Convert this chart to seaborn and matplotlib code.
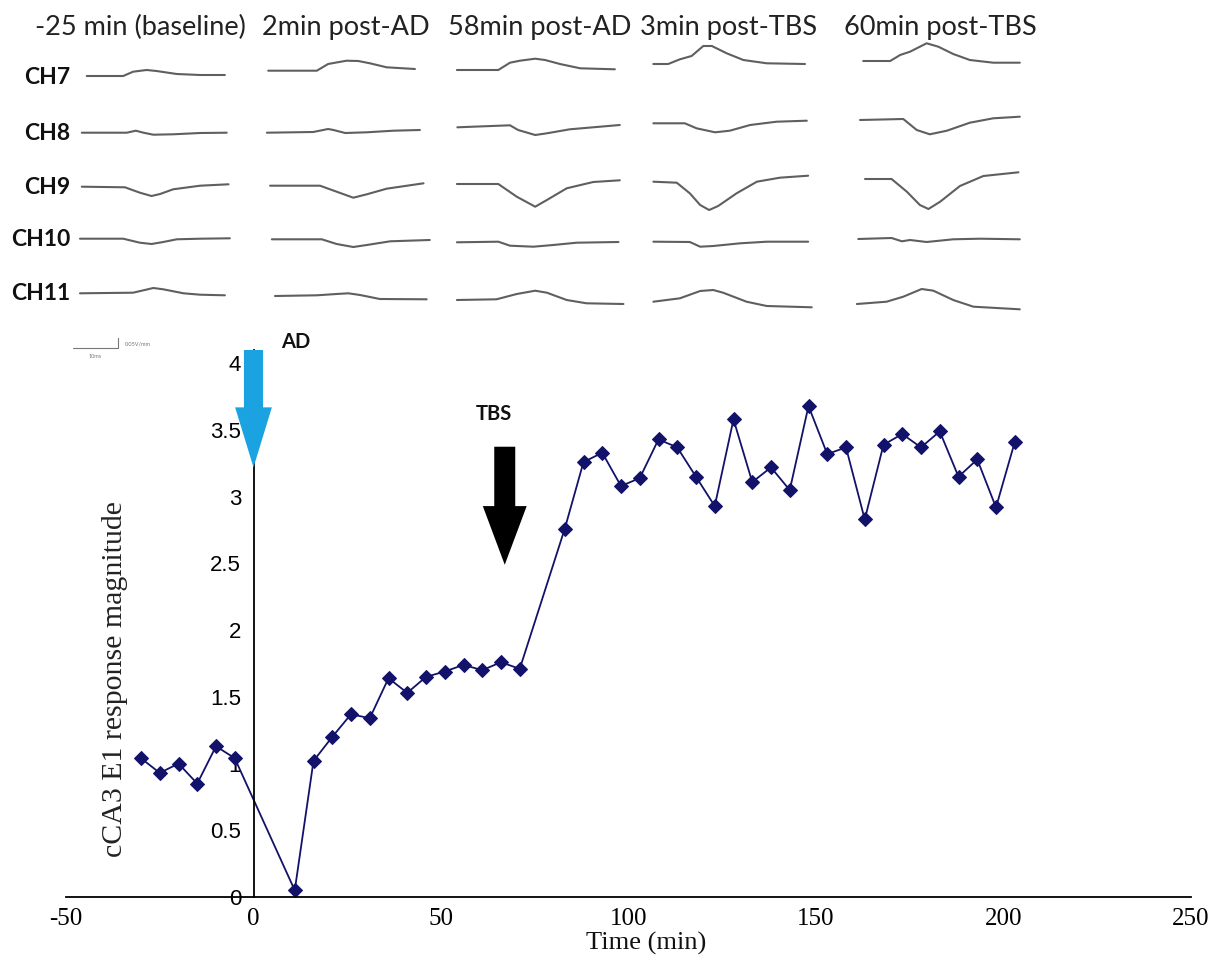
import numpy as np
import pandas as pd
import matplotlib
matplotlib.use("Agg")
import matplotlib.pyplot as plt
import seaborn as sns
from matplotlib.patches import FancyArrow
from matplotlib.ticker import FuncFormatter

# ---------------- data ----------------
time_min = [-30, -25, -20, -15, -10, -5,
            11, 16, 21, 26, 31, 36, 41, 46, 51, 56, 61, 66, 71,
            83, 88, 93, 98, 103, 108, 113, 118, 123, 128, 133, 138, 143, 148,
            153, 158, 163, 168, 173, 178, 183, 188, 193, 198, 203]
response = [1.04, 0.93, 1.00, 0.85, 1.13, 1.04,
            0.05, 1.02, 1.20, 1.37, 1.34, 1.64, 1.53, 1.65, 1.69, 1.74, 1.70, 1.76, 1.71,
            2.76, 3.26, 3.33, 3.08, 3.14, 3.43, 3.37, 3.15, 2.93, 3.58, 3.11, 3.22, 3.05, 3.68,
            3.32, 3.37, 2.83, 3.39, 3.47, 3.37, 3.49, 3.15, 3.28, 2.92, 3.41]

x_ticks = [-50, 0, 50, 100, 150, 200, 250]
y_ticks = [0, 0.5, 1, 1.5, 2, 2.5, 3, 3.5, 4]

conditions = ["-25 min (baseline)", "2min post-AD", "58min post-AD", "3min post-TBS", "60min post-TBS"]
channels = ["CH7", "CH8", "CH9", "CH10", "CH11"]

# evoked traces: time (ms) and potential (a.u.) for each condition
ch7_t = [[1.5, 9.6, 11.8, 14.8, 17.0, 21.5, 26.7, 32.2],
         [0.5, 11.3, 13.8, 17.9, 20.5, 23.1, 26.8, 33.1],
         [0.2, 9.4, 12, 14.2, 17.6, 19.8, 23.1, 27.6, 35.3],
         [0.3, 3.6, 6.2, 8.8, 11.4, 13.3, 16.6, 20.3, 25.5, 34],
         [1.6, 7.6, 9.8, 12, 15.7, 18.3, 21.6, 25.3, 30.5, 36.4]]
ch7_v = [[1, 1, 5.3, 7, 6, 3, 2, 2],
         [6.3, 6.3, 13, 16.3, 16, 13.7, 9.7, 8],
         [7, 7, 14.3, 16.3, 18.3, 17, 13, 8.7, 7.7],
         [13, 13, 17.7, 21, 31, 31, 23.7, 17, 13.7, 13],
         [16, 16, 22, 25.3, 33.7, 30.3, 23, 17, 14.3, 14.3]]

ch8_t = [[0.4, 10.4, 12.4, 14.1, 16.3, 20.7, 26.7, 32.6],
         [0.2, 10.5, 13.8, 15, 17.6, 22.4, 28.3, 34.2],
         [0.3, 12, 13.8, 17.6, 20.2, 25.3, 36.4],
         [0.3, 7.3, 9.9, 14, 17.3, 21.8, 27.7, 34.4],
         [0.9, 10.5, 13.5, 16.4, 20.2, 25.3, 30.5, 36.4]]
ch8_v = [[0.3, 0.3, 2.3, 0.3, -1.7, -1.3, 0, 0.3],
         [0.3, 1, 4, 3, 0, 0.7, 2.3, 3],
         [5.7, 7.7, 3, -2, -0.3, 3.7, 8],
         [9.7, 9.7, 4.7, 0.7, 2.3, 8, 11.3, 12.3],
         [13, 14, 3, -1.3, 2.3, 10.3, 14.7, 16.3]]

ch9_t = [[0.4, 10, 13.3, 15.9, 17.8, 20.7, 26.7, 33],
         [0.9, 12, 15.7, 19.4, 22.4, 26.8, 35],
         [0.2, 9.4, 13.5, 17.6, 20.2, 24.6, 30.5, 36.4],
         [0.3, 5.5, 8.4, 10.7, 12.7, 14.7, 18.8, 23.3, 28.4, 34.7],
         [2, 7.9, 11.3, 14.2, 16.1, 18.7, 23.1, 28.3, 36.1]]
ch9_v = [[0.3, -0.3, -5.7, -9, -7, -2.3, 1.3, 2.7],
         [1.3, 1.3, -4.7, -10.7, -7.3, -1.7, 3.7],
         [3, 3, -9.7, -19.7, -13, -1.3, 5, 6.7],
         [5.3, 4.3, -6.3, -18, -23, -19, -6.3, 5.3, 9.3, 11.3],
         [8, 8, -4.7, -18, -22, -14.7, 1, 11, 14.7]]

ch10_t = [[0, 9.6, 13.3, 15.9, 18.5, 21.5, 26.7, 33.3],
          [1.3, 12.4, 15.7, 19.4, 22.4, 27.6, 36.4],
          [0.2, 9.4, 12, 17.2, 21.6, 26.8, 36.1],
          [0.3, 8.4, 10.7, 13.6, 19.6, 25.5, 34.7],
          [0.5, 7.9, 10.2, 12, 15.7, 21.6, 27.6, 36.4]]
ch10_v = [[1.3, 1.3, -2.7, -4, -2, 0.7, 1.3, 1.7],
          [0.7, 0.7, -4, -7, -5, -1.3, 0],
          [-2.3, -1.7, -5.7, -6.7, -5, -2.7, -2],
          [-1.7, -2, -6.7, -6, -3.3, -1.7, -1.7],
          [1, 2, -1.3, 0, -2, 0.7, 1.3, 0.7]]

ch11_t = [[0, 11.8, 16.3, 18.5, 23, 26.7, 32.2],
          [2, 11.3, 15.7, 18.3, 20.9, 25.3, 35.7],
          [0.2, 9, 13.5, 17.6, 20.2, 24.6, 29, 37.2],
          [0.3, 6.2, 10.7, 13.6, 15.8, 21, 25.5, 35.5],
          [0.2, 6.8, 10.5, 14.6, 17.2, 21.6, 26.1, 36.4]]
ch11_v = [[0.7, 1.3, 6, 4.7, 0.7, -0.7, -1.3],
          [-2, -1.3, 0, 0.7, -1, -5, -5.3],
          [-6, -5.3, 0, 3.3, 1.3, -6, -9.3, -10],
          [-7.7, -4.3, 3, 4, 1.3, -7.7, -12, -13.3],
          [-10, -7.7, -2.7, 5, 3.3, -6, -12.7, -15.3]]

trace_t = [ch7_t, ch8_t, ch9_t, ch10_t, ch11_t]
trace_v = [ch7_v, ch8_v, ch9_v, ch10_v, ch11_v]

# ---------------- layout ----------------
W, H = 1213, 960
DPI = 100
sns.set_theme(style="white")
plt.rcParams["font.family"] = ["Lato", "DejaVu Sans"]
plt.rcParams["axes.unicode_minus"] = False

fig = plt.figure(figsize=(W / DPI, H / DPI), dpi=DPI)
fig.patch.set_facecolor("white")

# overlay axes for the evoked traces (x in ms, y in pixel-like units)
PX_PER_MS = 4.5
col_px = [80, 266, 456, 652, 856]
row_px = [77, 133, 187, 240, 294]
title_px = [140, 346, 540, 729, 940]

ax_tr = fig.add_axes([0, 0, 1, 1])
ax_tr.set_xlim(0, W / PX_PER_MS)
ax_tr.set_ylim(H, 0)
ax_tr.axis("off")
ax_tr.patch.set_alpha(0)

for r, ch in enumerate(channels):
    for c in range(len(conditions)):
        t = np.asarray(trace_t[r][c]) + col_px[c] / PX_PER_MS
        v = row_px[r] - np.asarray(trace_v[r][c])
        ax_tr.plot(t, v, color="#5f5f5f", lw=1.5, solid_joinstyle="round",
                   solid_capstyle="round")

for c, cond in enumerate(conditions):
    fig.text(title_px[c] / W, 1 - 27 / H, cond, ha="center", va="center",
             fontsize=19.5, color="#222222")
for r, ch in enumerate(channels):
    fig.text(70 / W, 1 - row_px[r] / H, ch, ha="right", va="center",
             fontsize=16.5, fontweight="bold", color="#111111")

# scale bar
sb_t0 = 73 / PX_PER_MS
ax_tr.plot([sb_t0, sb_t0 + 10, sb_t0 + 10], [348, 348, 338], color="#777777", lw=0.8)
ax_tr.text(sb_t0 + 11.5, 344, "0.05V/mm", fontsize=4, color="#777777", va="center")
ax_tr.text(sb_t0 + 5, 357, "10ms", fontsize=4, color="#777777", ha="center", va="center")

# ---------------- main chart ----------------
ax = fig.add_axes([66 / W, 63 / H, (1191 - 66) / W, (897 - 350) / H])
ax.patch.set_alpha(0)
df = pd.DataFrame({"time": time_min, "resp": response})
navy = "#12126a"
sns.lineplot(data=df, x="time", y="resp", ax=ax, color=navy, lw=1.3,
             marker="D", markersize=7.5, markeredgecolor=navy, markerfacecolor=navy,
             sort=False, estimator=None)

ax.set_xlim(-50, 250)
ax.set_ylim(0, 4.1)
ax.set_xticks(x_ticks)
ax.set_yticks(y_ticks)
ax.xaxis.set_major_formatter(FuncFormatter(lambda v, p: f"{v:g}"))
ax.yaxis.set_major_formatter(FuncFormatter(lambda v, p: f"{v:g}"))
ax.spines["left"].set_position(("data", 0))
ax.spines["top"].set_visible(False)
ax.spines["right"].set_visible(False)
for s in ("left", "bottom"):
    ax.spines[s].set_color("black")
    ax.spines[s].set_linewidth(1.3)
ax.tick_params(axis="x", direction="out", length=7, width=1.2, pad=1, colors="black",
               labelsize=18)
ax.tick_params(axis="y", direction="out", length=6, width=1.2, pad=3, colors="black",
               labelsize=16)
for lab in ax.get_xticklabels():
    lab.set_fontfamily(["Liberation Serif"])
for lab in ax.get_yticklabels():
    lab.set_fontfamily(["Liberation Sans Narrow", "Liberation Sans"])
ax.set_xlabel("")
ax.set_ylabel("")
ax.grid(False)

# stimulation arrows
ax.add_patch(FancyArrow(0, 4.1, 0, -0.88, width=5.1, head_width=9.8, head_length=0.45,
                        length_includes_head=True, color="#1aa3e0", lw=0, clip_on=False,
                        zorder=5))
ax.add_patch(FancyArrow(67, 3.375, 0, -0.885, width=5.6, head_width=11.7, head_length=0.44,
                        length_includes_head=True, color="black", lw=0, clip_on=False,
                        zorder=5))
ax.text(11.2, 4.16, "AD", fontsize=14.5, fontweight="bold", ha="center", va="center",
        clip_on=False, color="#111111")
ax.text(64, 3.62, "TBS", fontsize=14.5, fontweight="bold", ha="center", va="center",
        clip_on=False, color="#111111")

fig.text(646 / W, 1 - 943 / H, "Time (min)", ha="center", va="center",
         fontsize=19, family="Liberation Serif", color="#111111")
fig.text(115 / W, 1 - 679 / H, "cCA3 E1 response magnitude", ha="center", va="center",
         rotation=90, fontsize=21.5, family="Liberation Serif", color="#222222")

fig.savefig("out.png", dpi=DPI, facecolor="white")
